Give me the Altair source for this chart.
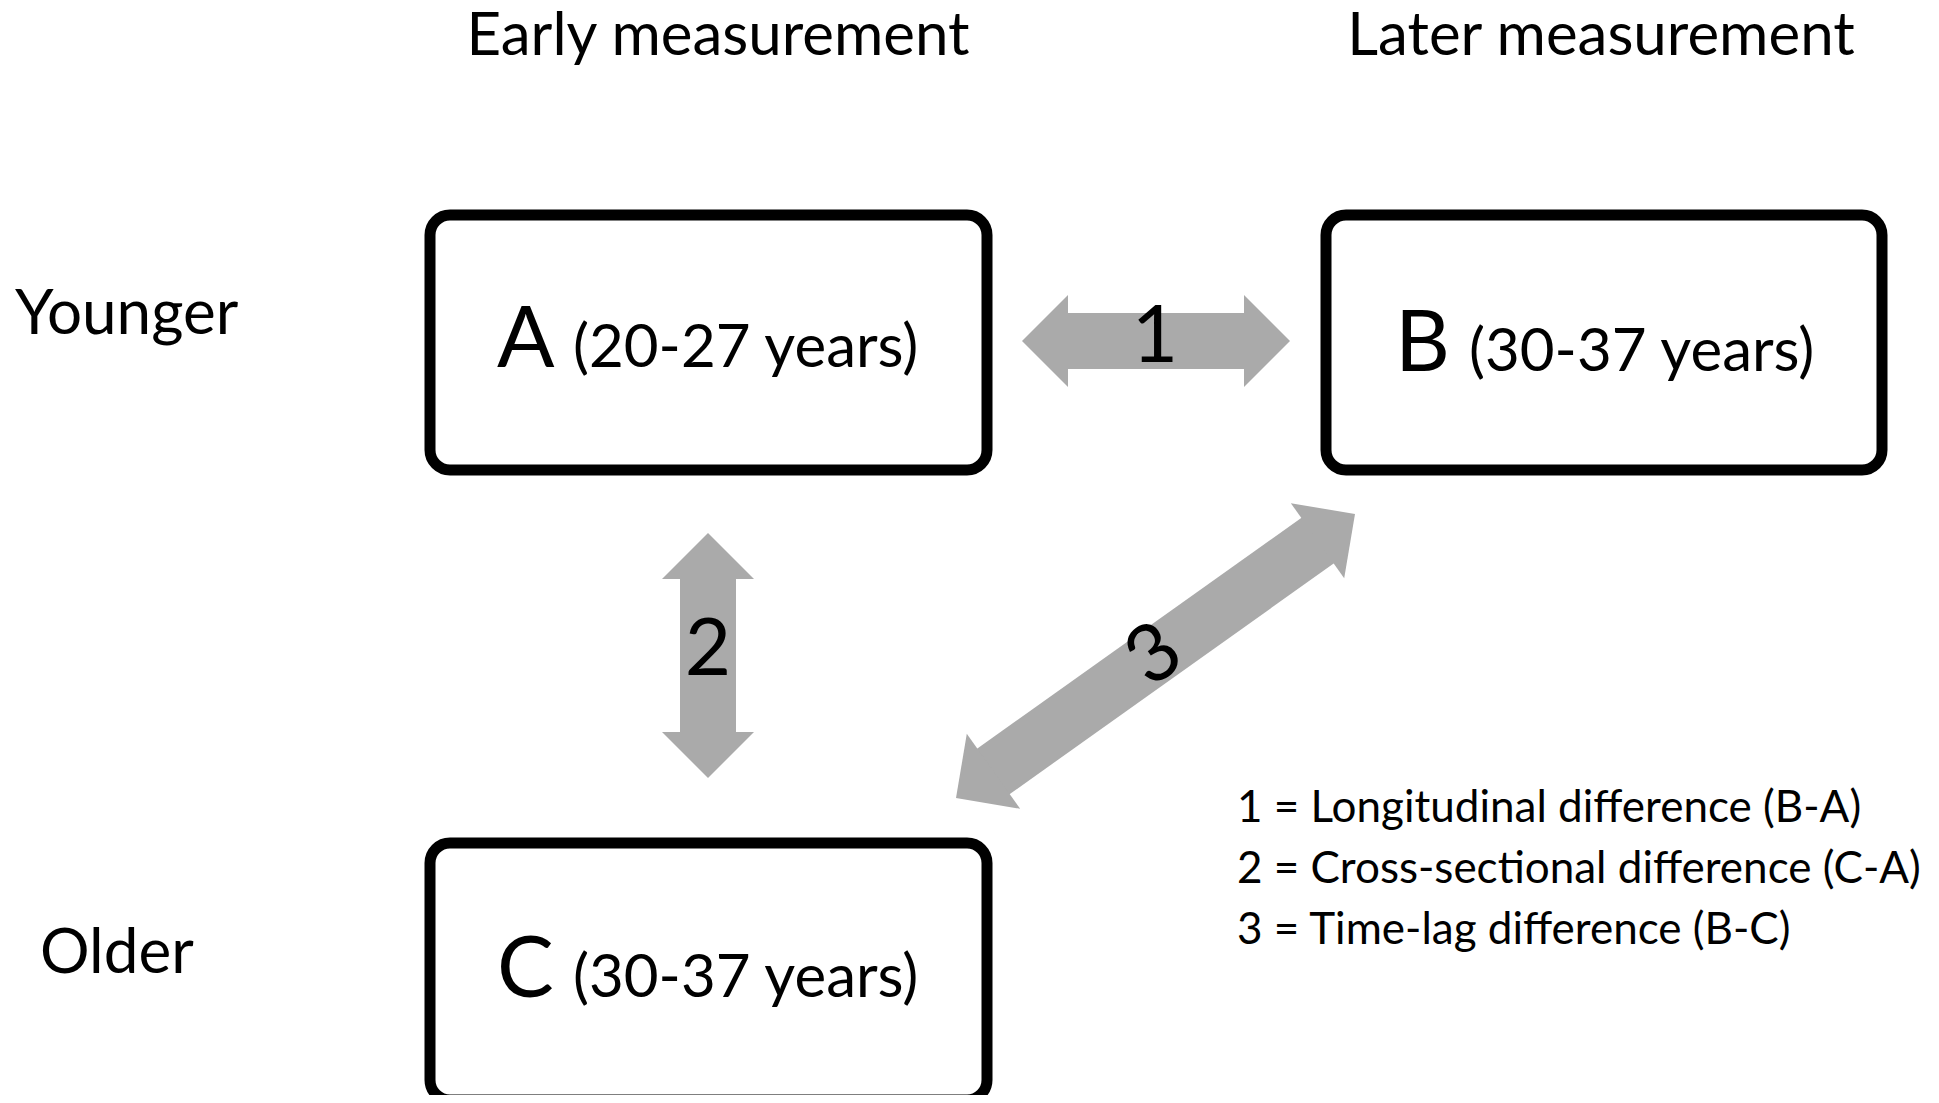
import math
import altair as alt
import pandas as pd

# ---------------- data ----------------
col_titles = ["Early measurement", "Later measurement"]
col_title_x = [718, 1601]
col_title_y = [55, 55]

row_labels = ["Younger", "Older"]
row_label_x = [15, 40]
row_label_y = [334, 973]

box_letters = ["A", "B", "C"]
box_ages = ["(20-27 years)", "(30-37 years)", "(30-37 years)"]
box_x1 = [430, 1326, 430]
box_x2 = [987, 1882, 987]
box_y1 = [215, 215, 843]
box_y2 = [470, 470, 1100]
letter_x = [497, 1395, 497]
letter_y = [367, 371, 997]
age_x = [573, 1469, 573]
age_y = [367, 371, 997]

arrow_labels = ["1", "2", "3"]
arrow_x1 = [1022, 708, 956]
arrow_y1 = [341, 533, 798]
arrow_x2 = [1290, 708, 1355]
arrow_y2 = [341, 778, 514]
arrow_label_x = [1155, 708, 1155]
arrow_label_y = [338, 651, 656]
arrow_label_angle = [0, 0, 324.5]

legend_lines = [
    "1 = Longitudinal difference (B-A)",
    "2 = Cross-sectional difference (C-A)",
    "3 = Time-lag difference (B-C)",
]
legend_x = [1237, 1237, 1237]
legend_y = [822, 883, 944]

HEAD_LEN = 46
HEAD_W = 92
SHAFT_W = 56
GRAY = "#aaaaaa"
FONT = "Lato"

# ---------------- derived tables ----------------
boxes = pd.DataFrame({"x": box_x1, "x2": box_x2, "y": box_y1, "y2": box_y2})

shaft_rows, head_rows = [], []
for x1, y1, x2, y2 in zip(arrow_x1, arrow_y1, arrow_x2, arrow_y2):
    dx, dy = x2 - x1, y2 - y1
    L = math.hypot(dx, dy)
    ux, uy = dx / L, dy / L
    shaft_rows.append({
        "x": x1 + ux * HEAD_LEN * 0.9, "y": y1 + uy * HEAD_LEN * 0.9,
        "x2": x2 - ux * HEAD_LEN * 0.9, "y2": y2 - uy * HEAD_LEN * 0.9,
    })
    # head at end (pointing +u) and at start (pointing -u)
    for tx, ty, vx, vy in [(x2, y2, ux, uy), (x1, y1, -ux, -uy)]:
        ang = math.degrees(math.atan2(vx, -vy)) % 360
        head_rows.append({
            "x": tx - vx * HEAD_LEN / 2, "y": ty - vy * HEAD_LEN / 2, "angle": ang,
        })
shafts = pd.DataFrame(shaft_rows)
heads = pd.DataFrame(head_rows)

titles = pd.DataFrame({"x": col_title_x, "y": col_title_y, "t": col_titles})
rows = pd.DataFrame({"x": row_label_x, "y": row_label_y, "t": row_labels})
letters = pd.DataFrame({"x": letter_x, "y": letter_y, "t": box_letters})
ages = pd.DataFrame({"x": age_x, "y": age_y, "t": box_ages})
alabels = pd.DataFrame({"x": arrow_label_x, "y": arrow_label_y, "t": arrow_labels,
                        "angle": arrow_label_angle})
legend = pd.DataFrame({"x": legend_x, "y": legend_y, "t": legend_lines})

# ---------------- scales ----------------
xs = alt.Scale(domain=[8, 1931], nice=False, zero=False)
ys = alt.Scale(domain=[8, 1095], nice=False, zero=False, reverse=True)


def X(f="x"):
    return alt.X(f"{f}:Q", scale=xs, axis=None)


def Y(f="y"):
    return alt.Y(f"{f}:Q", scale=ys, axis=None)


box_layer = alt.Chart(boxes).mark_rect(
    fill="white", stroke="black", strokeWidth=11, cornerRadius=20
).encode(x=X(), x2="x2:Q", y=Y(), y2="y2:Q")

shaft_layer = alt.Chart(shafts).mark_rule(
    color=GRAY, strokeWidth=SHAFT_W, strokeCap="butt"
).encode(x=X(), x2="x2:Q", y=Y(), y2="y2:Q")

head_layer = alt.Chart(heads).mark_point(
    shape="M-1,0.5L0,-0.5L1,0.5Z", filled=True, color=GRAY, opacity=1,
    size=HEAD_W * HEAD_W, strokeWidth=0
).encode(x=X(), y=Y(), angle=alt.Angle("angle:Q", scale=None))


def text_layer(df, size, align, baseline="alphabetic", angle=False):
    enc = dict(x=X(), y=Y(), text="t:N")
    if angle:
        enc["angle"] = alt.Angle("angle:Q", scale=None)
    return alt.Chart(df).mark_text(
        font=FONT, fontSize=size, align=align, baseline=baseline, color="black"
    ).encode(**enc)


chart = alt.layer(
    box_layer,
    shaft_layer,
    head_layer,
    text_layer(titles, 60, "center"),
    text_layer(rows, 62, "left"),
    text_layer(letters, 85, "left"),
    text_layer(ages, 60, "left"),
    text_layer(alabels, 80, "center", baseline="middle", angle=True),
    text_layer(legend, 44, "left"),
).properties(
    width=1923, height=1087, padding=0, autosize=alt.AutoSizeParams(type="none"),
    background="white",
).configure_view(stroke=None)

chart.save("out.html", embed_options={"renderer": "svg", "actions": False})
